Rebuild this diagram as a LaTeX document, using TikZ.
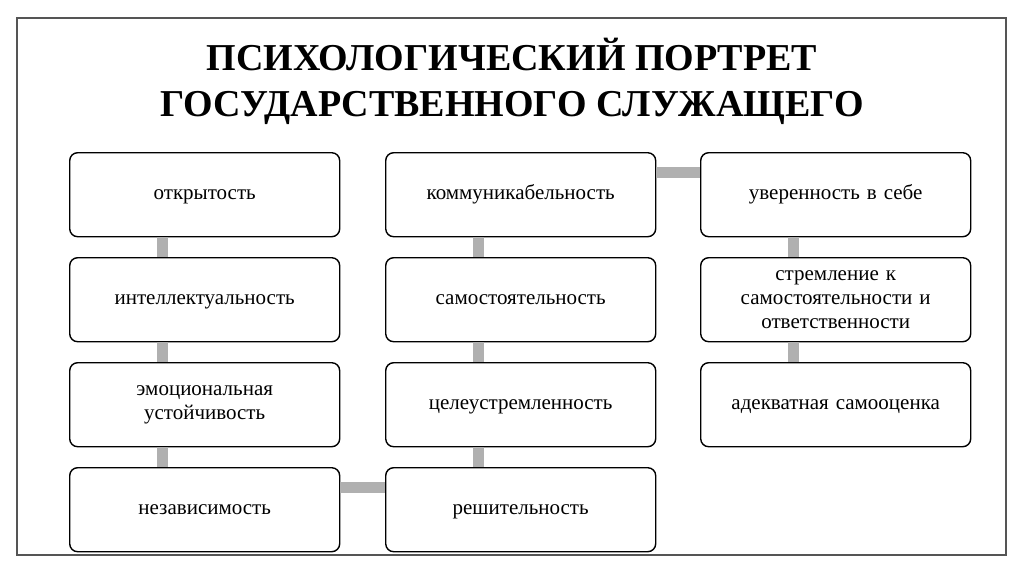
\documentclass[tikz,border=0pt]{standalone}
\usepackage{fontspec}
\setmainfont{Liberation Serif}
\begin{document}
\begin{tikzpicture}[x=1pt,y=-1pt,
  itembox/.style={draw=black, line width=1.4pt, rounded corners=8pt, fill=white,
    minimum width=270pt, minimum height=84pt, inner sep=0pt, align=center,
    font=\fontsize{21}{24}\selectfont, anchor=north west, text width=260pt},
  bar/.style={draw=barcol, line width=11pt},
  ]
\definecolor{barcol}{HTML}{B0B0B0}
\definecolor{framecol}{HTML}{555555}
\useasboundingbox (0,0) rectangle (1024,574);
\draw[framecol, line width=1.5pt] (17,18) rectangle (1006,555);
\node[font=\bfseries\fontsize{38}{46}\selectfont, align=center] (title) at (512,81)
  {ПСИХОЛОГИЧЕСКИЙ ПОРТРЕТ\\ГОСУДАРСТВЕННОГО СЛУЖАЩЕГО};
% column 1
\node[itembox] (a1) at (69,152) {открытость\strut};
\node[itembox] (a2) at (69,257) {интеллектуальность\strut};
\node[itembox] (a3) at (69,362) {эмоциональная\\устойчивость};
\node[itembox] (a4) at (69,467) {независимость\strut};
% column 2
\node[itembox] (b1) at (385,152) {коммуникабельность\strut};
\node[itembox] (b2) at (385,257) {самостоятельность\strut};
\node[itembox] (b3) at (385,362) {целеустремленность\strut};
\node[itembox] (b4) at (385,467) {решительность\strut};
% column 3
\node[itembox] (c1) at (700,152) {уверенность в себе\strut};
\node[itembox] (c2) at (700,257) {стремление к\\самостоятельности и\\ответственности};
\node[itembox] (c3) at (700,362) {адекватная самооценка\strut};
% connectors
\foreach \u/\v in {a1/a2,a2/a3,a3/a4,b1/b2,b2/b3,b3/b4,c1/c2,c2/c3}{
  \draw[bar] ([xshift=-42pt]\u.south) -- ([xshift=-42pt]\v.north);
}
\draw[bar] ([yshift=22pt]a4.east) -- ([yshift=22pt]b4.west);
\draw[bar] ([yshift=22pt]b1.east) -- ([yshift=22pt]c1.west);
\end{tikzpicture}
\end{document}
